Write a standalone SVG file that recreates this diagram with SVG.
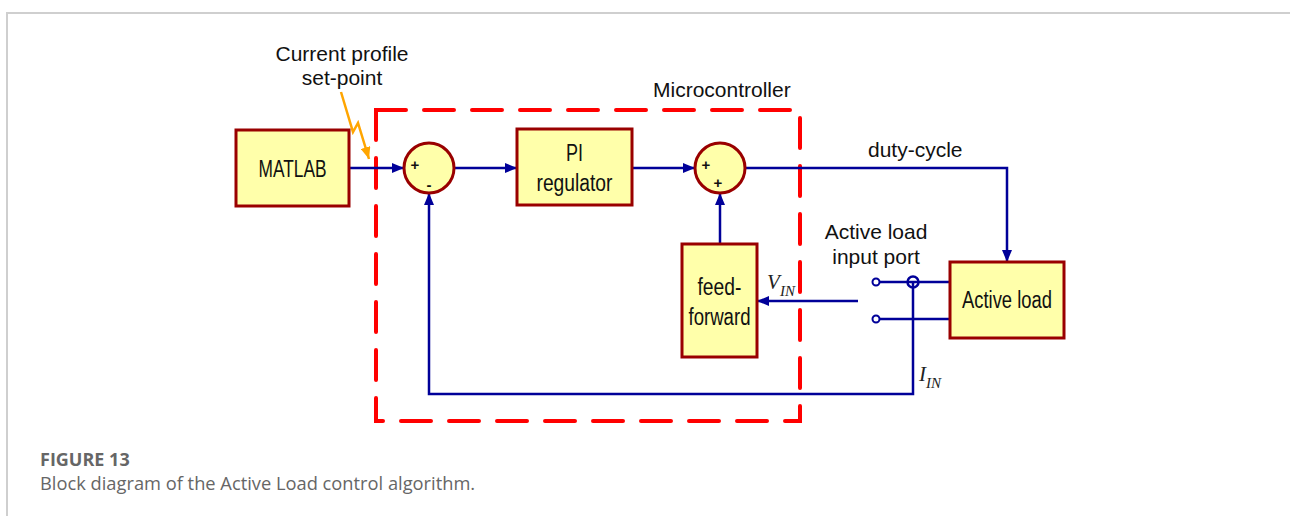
<svg xmlns="http://www.w3.org/2000/svg" width="1290" height="516" viewBox="0 0 1290 516">
  <defs>
    <style>
      .frame { stroke: #cfcfcf; stroke-width: 2; fill: none; }
      .block { fill: #ffffaa; stroke: #990000; stroke-width: 3; }
      .wire { stroke: #000099; stroke-width: 2.5; fill: none; }
      .mc { stroke: #ff0000; stroke-width: 4; fill: none; stroke-dasharray: 30 18; stroke-linecap: round; }
      .lbl { font-family: "Liberation Sans", Arial, sans-serif; font-size: 21px; fill: #111; }
      .blk { font-family: "Liberation Sans", Arial, sans-serif; font-size: 23px; fill: #111; }
      .sign { font-family: "Liberation Sans", Arial, sans-serif; font-size: 15px; fill: #111; font-weight: bold; }
      .math { font-family: "Liberation Serif", "Times New Roman", serif; font-style: italic; fill: #222; }
      .cap { font-family: "Open Sans", "Liberation Sans", sans-serif; fill: #666; }
    </style>
    <marker id="arr" viewBox="0 0 12 10" refX="12" refY="5" markerWidth="12" markerHeight="10" markerUnits="userSpaceOnUse" orient="auto">
      <path d="M0,0 L12,5 L0,10 Z" fill="#000099"/>
    </marker>
    <marker id="arrOrange" viewBox="0 0 12 10" refX="12" refY="5" markerWidth="12" markerHeight="10" markerUnits="userSpaceOnUse" orient="auto">
      <path d="M0,0 L12,5 L0,10 Z" fill="#ffa500"/>
    </marker>
  </defs>

  <rect width="1290" height="516" fill="#ffffff"/>
  <!-- page frame -->
  <path class="frame" d="M7,516 V13 H1290"/>

  <!-- microcontroller boundary -->
  <g id="microcontroller">
    <rect class="mc" x="376" y="110" width="424" height="311"/>
    <text class="lbl" x="653" y="97">Microcontroller</text>
  </g>

  <!-- connectors -->
  <g id="connectors">
    <line class="wire" x1="349" y1="168" x2="404" y2="168" marker-end="url(#arr)"/>
    <line class="wire" x1="454" y1="168" x2="517" y2="168" marker-end="url(#arr)"/>
    <line class="wire" x1="632" y1="168" x2="695" y2="168" marker-end="url(#arr)"/>
    <polyline class="wire" points="745,168 1007,168 1007,262" marker-end="url(#arr)"/>
    <line class="wire" x1="720" y1="244" x2="720" y2="193" marker-end="url(#arr)"/>
    <line class="wire" x1="858" y1="301" x2="757" y2="301" marker-end="url(#arr)"/>
    <!-- input port wires -->
    <line class="wire" x1="879" y1="282" x2="950" y2="282"/>
    <line class="wire" x1="879" y1="319" x2="950" y2="319"/>
    <circle cx="876" cy="282" r="3.5" fill="#fff" stroke="#000099" stroke-width="2"/>
    <circle cx="876" cy="319" r="3.5" fill="#fff" stroke="#000099" stroke-width="2"/>
    <!-- current feedback -->
    <polyline class="wire" points="913,282 913,394 429,394 429,193" marker-end="url(#arr)"/>
    <circle cx="913" cy="282" r="5.5" fill="none" stroke="#000099" stroke-width="2.5"/>
    <!-- set-point link -->
    <polyline points="341,92 353,132 358,123 369,159" fill="none" stroke="#ffa500" stroke-width="2.5" marker-end="url(#arrOrange)"/>
    <text class="lbl" x="868" y="157">duty-cycle</text>
    <text class="math" x="767" y="289" font-size="21">V</text>
    <text class="math" x="780" y="296" font-size="15">IN</text>
    <text class="math" x="919" y="381" font-size="21">I</text>
    <text class="math" x="926" y="388" font-size="15">IN</text>
  </g>

  <g id="setpoint-label">
    <text class="lbl" x="342" y="61" text-anchor="middle">Current profile</text>
    <text class="lbl" x="342" y="85" text-anchor="middle">set-point</text>
  </g>

  <g id="matlab">
    <rect class="block" x="236" y="130" width="113" height="76"/>
    <text class="blk" x="292.5" y="177" text-anchor="middle" textLength="68" lengthAdjust="spacingAndGlyphs">MATLAB</text>
  </g>

  <g id="sum1">
    <circle class="block" cx="429" cy="168" r="25"/>
    <text class="sign" x="415" y="170" text-anchor="middle">+</text>
    <text class="sign" x="429" y="190" text-anchor="middle">-</text>
  </g>

  <g id="pi-regulator">
    <rect class="block" x="517" y="129" width="115" height="76"/>
    <text class="blk" x="574.5" y="161" text-anchor="middle" textLength="17" lengthAdjust="spacingAndGlyphs">PI</text>
    <text class="blk" x="574.5" y="191" text-anchor="middle" textLength="76" lengthAdjust="spacingAndGlyphs">regulator</text>
  </g>

  <g id="sum2">
    <circle class="block" cx="720" cy="168" r="25"/>
    <text class="sign" x="706" y="170" text-anchor="middle">+</text>
    <text class="sign" x="718" y="188" text-anchor="middle">+</text>
  </g>

  <g id="feed-forward">
    <rect class="block" x="682" y="244" width="75" height="113"/>
    <text class="blk" x="719.5" y="295" text-anchor="middle" textLength="44" lengthAdjust="spacingAndGlyphs">feed-</text>
    <text class="blk" x="719.5" y="325" text-anchor="middle" textLength="62" lengthAdjust="spacingAndGlyphs">forward</text>
  </g>

  <g id="active-load">
    <rect class="block" x="950" y="262" width="114" height="76"/>
    <text class="blk" x="1007" y="308" text-anchor="middle" textLength="90" lengthAdjust="spacingAndGlyphs">Active load</text>
  </g>

  <g id="port-label">
    <text class="lbl" x="876" y="239" text-anchor="middle">Active load</text>
    <text class="lbl" x="876" y="264" text-anchor="middle">input port</text>
  </g>

  <g id="caption">
    <text class="cap" x="40" y="466" font-size="18" font-weight="bold">FIGURE 13</text>
    <text class="cap" x="40" y="490" font-size="18.3">Block diagram of the Active Load control algorithm.</text>
  </g>
</svg>
